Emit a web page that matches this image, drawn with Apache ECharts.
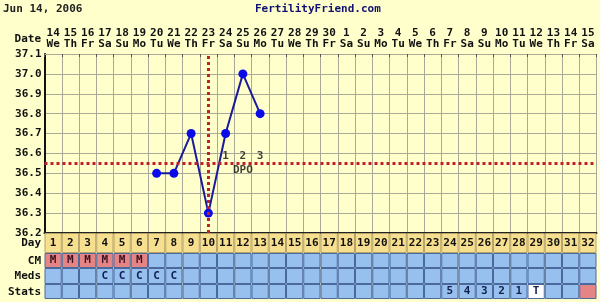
<!DOCTYPE html>
<html><head><meta charset="utf-8">
<script src="https://cdn.jsdelivr.net/npm/echarts@6/dist/echarts.min.js"></script>
<style>html,body{margin:0;padding:0;background:#FFFFCC}#c{width:600px;height:302px}</style>
</head><body><div id="c"></div>
<script>
const chartDate = 'Jun 14, 2006';
const siteName = 'FertilityFriend.com';
const dates = ['14','15','16','17','18','19','20','21','22','23','24','25','26','27','28','29','30','1','2','3','4','5','6','7','8','9','10','11','12','13','14','15'];
const weekdays = ['We','Th','Fr','Sa','Su','Mo','Tu','We','Th','Fr','Sa','Su','Mo','Tu','We','Th','Fr','Sa','Su','Mo','Tu','We','Th','Fr','Sa','Su','Mo','Tu','We','Th','Fr','Sa'];
const cycleDays = ['1','2','3','4','5','6','7','8','9','10','11','12','13','14','15','16','17','18','19','20','21','22','23','24','25','26','27','28','29','30','31','32'];
const temps = [null,null,null,null,null,null,36.5,36.5,36.7,36.3,36.7,37.0,36.8,null,null,null,null,null,null,null,null,null,null,null,null,null,null,null,null,null,null,null];
const yTicks = [36.2,36.3,36.4,36.5,36.6,36.7,36.8,36.9,37.0,37.1];
const coverline = 36.55;
const ovulationDay = 10;
const dpoDays = [11,12,13];
const dpoLabels = ['1','2','3'];
const cm = ['M','M','M','M','M','M','','','','','','','','','','','','','','','','','','','','','','','','','',''];
const meds = ['','','','C','C','C','C','C','','','','','','','','','','','','','','','','','','','','','','','',''];
const stats = ['','','','','','','','','','','','','','','','','','','','','','','','5','4','3','2','1','T','','',''];
const nextCycleDay = 32;
const rowLabels = ['Day','CM','Meds','Stats'];

const FONT = 'DejaVu Sans Mono';
const PAGE = '#FFFFCC';
const GRIDC = '#A9A99A';
const LEFT = 44.5, RIGHT = 3.5;
const rows = [
  {top:233, h:20},
  {top:253, h:15},
  {top:268, h:16},
  {top:284, h:15}
];
const chart = echarts.init(document.getElementById('c'), null, {renderer:'canvas'});

const grids = [{left:LEFT, right:RIGHT, top:54, height:179}];
rows.forEach(r => grids.push({left:LEFT, right:RIGHT, top:r.top, height:r.h}));

const xAxes = [
  {gridIndex:0, type:'category', data:cycleDays, position:'top', boundaryGap:true,
   axisLine:{show:true, lineStyle:{color:GRIDC}}, axisTick:{show:true, length:3, inside:true, lineStyle:{color:'#555'}},
   splitLine:{show:true, lineStyle:{color:GRIDC, width:1}},
   axisLabel:{interval:0, margin:4, fontFamily:FONT, fontWeight:'bold', fontSize:11, color:'#111', lineHeight:11,
     formatter:(v,i)=>dates[i]+'\n'+weekdays[i]}},
  {gridIndex:0, type:'category', data:cycleDays, position:'bottom', boundaryGap:true,
   axisLine:{show:true, lineStyle:{color:'#222', width:2}}, axisTick:{show:false}, axisLabel:{show:false}, splitLine:{show:false}}
];
const yAxes = [
  {gridIndex:0, type:'value', min:36.2, max:37.1, interval:0.1,
   axisLine:{show:true, lineStyle:{color:'#111', width:2}}, axisTick:{show:false},
   splitLine:{show:true, lineStyle:{color:GRIDC, width:1}},
   axisLabel:{margin:3, fontFamily:FONT, fontWeight:'bold', fontSize:11, color:'#111', formatter:v=>v.toFixed(1)}}
];
for (let g=1; g<=4; g++) {
  xAxes.push({gridIndex:g, type:'category', data:cycleDays, show:false});
  yAxes.push({gridIndex:g, type:'value', min:0, max:1, show:false});
}

const dayCell = '#F6DF8E', blue = '#98C0EE', pink = '#E48484', white = '#FFFFFF';
function rowSeries(g, arr, colorFn, borderC, textC) {
  return {
    type:'bar', xAxisIndex:g+1, yAxisIndex:g, barCategoryGap:'0%', barWidth:'100%', silent:true,
    data: arr.map((t,i)=>({value:1, itemStyle:{color:colorFn(t,i)}})),
    itemStyle:{borderColor:borderC, borderWidth:1},
    label:{show:true, position:'inside', formatter:p=>arr[p.dataIndex], fontFamily:FONT, fontWeight:'bold', fontSize:11, color:textC},
    animation:false
  };
}

const series = [
  {type:'line', xAxisIndex:0, yAxisIndex:0, data:temps, connectNulls:false, symbol:'circle', symbolSize:9,
   lineStyle:{color:'#1A1A9A', width:2}, itemStyle:{color:'#0A0AE8'}, animation:false, z:3,
   markLine:{silent:true, symbol:'none', label:{show:false}, animation:false,
     lineStyle:{color:'#C0202A', width:3, type:[3,3]},
     data:[{yAxis:coverline},{xAxis:ovulationDay-1}]}},
  {type:'scatter', xAxisIndex:0, yAxisIndex:0, symbolSize:0, silent:true, animation:false, z:5,
   data: dpoDays.map((d,i)=>({value:[d-1, 36.585], label:{formatter:dpoLabels[i]}})),
   label:{show:true, position:'inside', fontFamily:FONT, fontWeight:'bold', fontSize:11, color:'#111'}},
  {type:'scatter', xAxisIndex:0, yAxisIndex:0, symbolSize:0, silent:true, animation:false, z:5,
   data:[{value:[dpoDays[1]-1, 36.515]}],
   label:{show:true, position:'inside', formatter:'DPO', fontFamily:FONT, fontWeight:'bold', fontSize:11, color:'#111'}},
  rowSeries(1, cycleDays, ()=>dayCell, '#B7A46A', '#111'),
  rowSeries(2, cm, t=>t==='M'?pink:blue, '#4A6A9E', '#3A1020'),
  rowSeries(3, meds, ()=>blue, '#4A6A9E', '#10205A'),
  rowSeries(4, stats, (t,i)=> t==='T'?white:(i===nextCycleDay-1?pink:blue), '#4A6A9E', '#10204A')
];

const graphic = [
  {type:'text', left:3, top:4, style:{text:chartDate, font:'bold 11px "DejaVu Sans Mono"', fill:'#222'}},
  {type:'text', left:255, top:4, style:{text:siteName, font:'bold 11px "DejaVu Sans Mono"', fill:'#101070'}},
  {type:'text', x:41, y:39, style:{text:'Date', font:'bold 11px "DejaVu Sans Mono"', fill:'#111', align:'right', verticalAlign:'middle'}}
];
rows.forEach((r,i)=>graphic.push({type:'text', x:41, y:r.top+r.h/2+0.5, style:{text:rowLabels[i], font:'bold 11px "DejaVu Sans Mono"', fill:'#111', align:'right', verticalAlign:'middle'}}));

chart.setOption({backgroundColor:PAGE, animation:false, grid:grids, xAxis:xAxes, yAxis:yAxes, series:series, graphic:graphic});
</script></body></html>
